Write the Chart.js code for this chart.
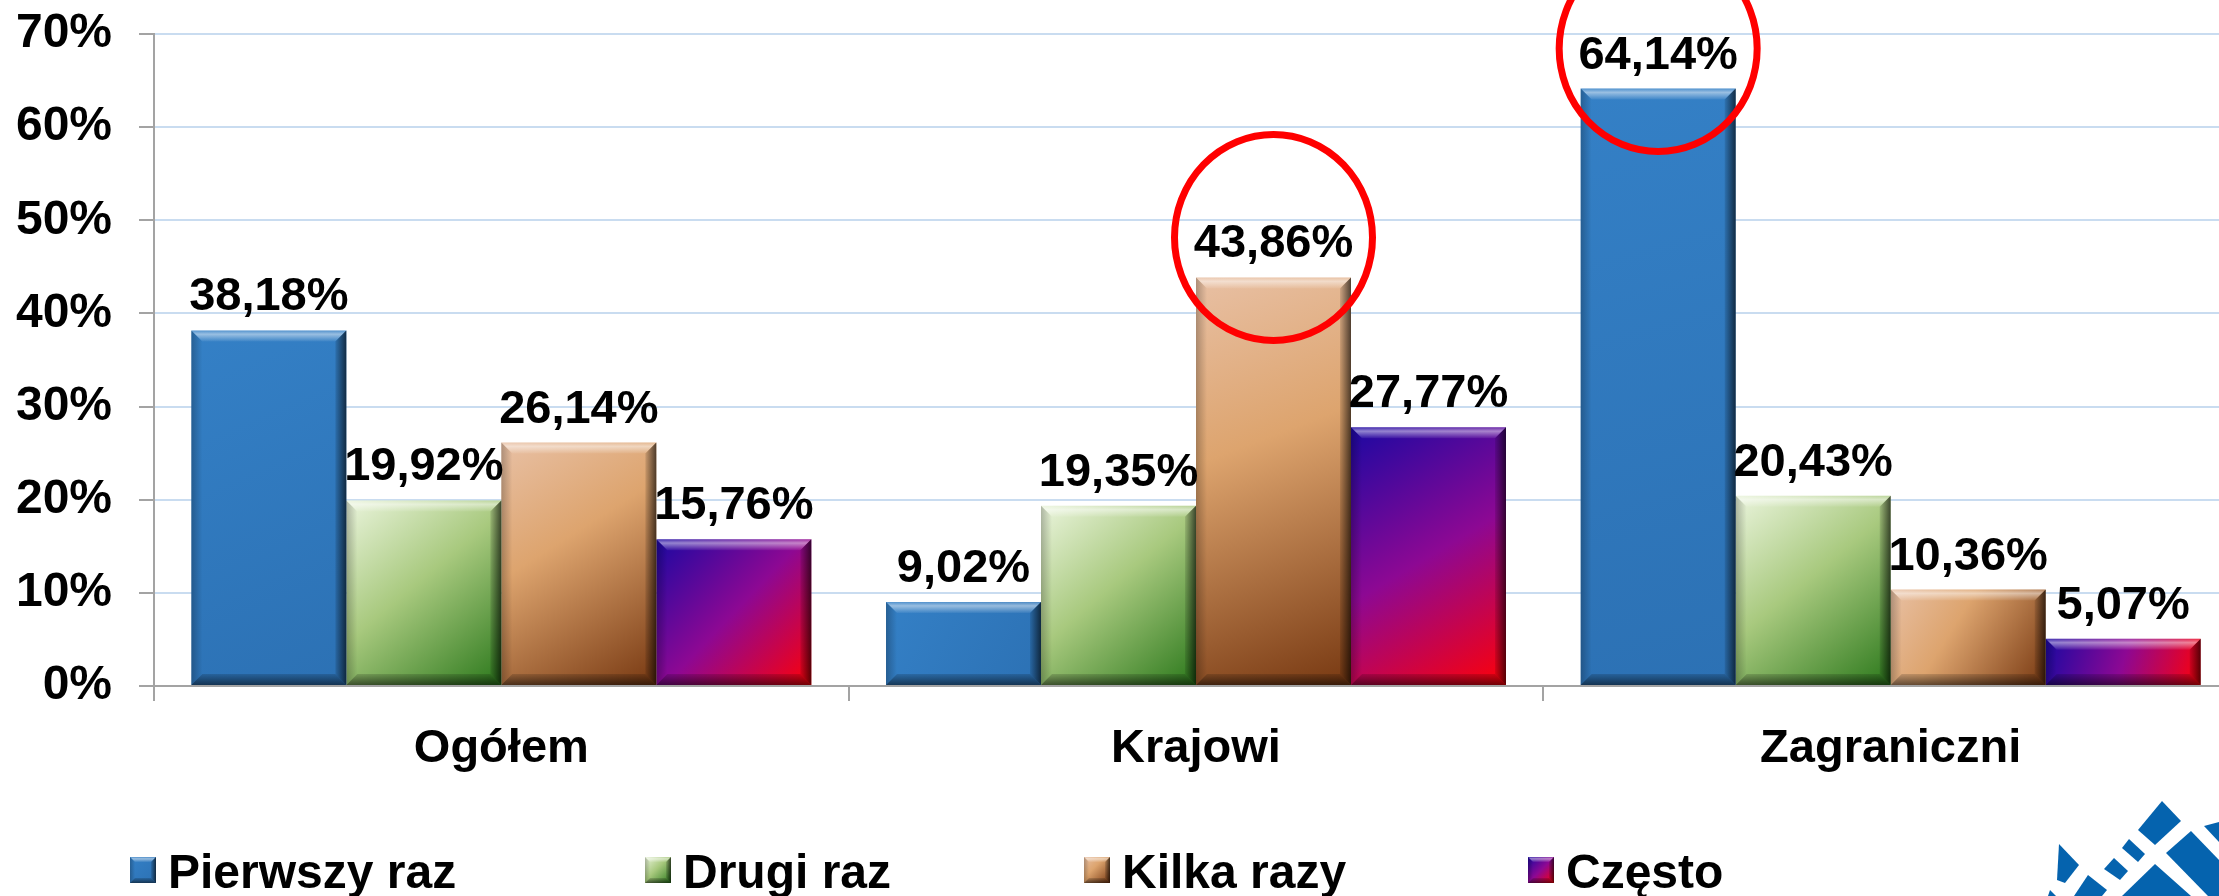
<!DOCTYPE html>
<html lang="pl">
<head>
<meta charset="utf-8">
<title>Częstotliwość wizyt</title>
<script src="https://cdn.jsdelivr.net/npm/chart.js@4/dist/chart.umd.min.js"></script>
<style>
  html, body { margin: 0; padding: 0; background: #ffffff; overflow: hidden; }
  #wrap { width: 2240px; height: 896px; position: relative; }
  canvas { display: block; }
</style>
</head>
<body>
<div id="wrap"><canvas id="chart" width="2240" height="896"></canvas></div>
<script>
// ---- data ----
const categories = ['Ogółem', 'Krajowi', 'Zagraniczni'];
const seriesNames = ['Pierwszy raz', 'Drugi raz', 'Kilka razy', 'Często'];
const pierwszyRaz = [38.18, 9.02, 64.14];
const drugiRaz    = [19.92, 19.35, 20.43];
const kilkaRazy   = [26.14, 43.86, 10.36];
const czesto      = [15.76, 27.77, 5.07];
const yTicks = [0, 10, 20, 30, 40, 50, 60, 70];
// bars singled out with a red ring: [series index, category index]
const highlighted = [[2, 1], [0, 2]];

// ---- styling ----
const FONT = '"Liberation Sans", Arial, Helvetica, sans-serif';
const CATEGORY_PCT = 0.8925;
const AXIS_GREY = '#a3a3a3';
const GRID_BLUE = '#c9dcf0';

const fills = [
  [[0, '#3480c6'], [1, '#2c71b4']],                                  // blue
  [[0, '#eaf4dc'], [0.45, '#a8c97e'], [1, '#2b781b']],               // green
  [[0, '#e8c0a4'], [0.4, '#dda46e'], [1, '#773811']],                // copper
  [[0, '#1c08a2'], [0.5, '#8d0893'], [1, '#ff0006']]                 // violet-red
];

function makeGradient(ctx2d, stops, l, t, r, b) {
  const g = ctx2d.createLinearGradient(l, t, r, b);
  stops.forEach(([o, c]) => g.addColorStop(o, c));
  return g;
}

// gradient fill computed from the bar's place on the scales
function barFill(stops) {
  return (c) => {
    const chart = c.chart;
    const xs = chart.scales.x, ys = chart.scales.y;
    if (c.type !== 'data' || !xs || !ys) return stops[0][1];
    const n = chart.data.datasets.length;
    const groupW = (xs.width / chart.data.labels.length) * CATEGORY_PCT;
    const barW = groupW / n;
    const left = xs.getPixelForValue(c.dataIndex) - groupW / 2 + c.datasetIndex * barW;
    const top = ys.getPixelForValue(c.raw);
    const bottom = ys.getPixelForValue(0);
    if (![left, top, bottom, barW].every(Number.isFinite) || barW <= 0) return stops[0][1];
    return makeGradient(chart.ctx, stops, left, top, left + barW, bottom);
  };
}

function quad(ctx, pts, style) {
  ctx.beginPath();
  ctx.moveTo(pts[0][0], pts[0][1]);
  for (let i = 1; i < pts.length; i++) ctx.lineTo(pts[i][0], pts[i][1]);
  ctx.closePath();
  ctx.fillStyle = style;
  ctx.fill();
}

// bevelled edges on a rectangle
function drawBevel(ctx, l, t, r, b, d) {
  if (![l, t, r, b, d].every(Number.isFinite) || d <= 0) return;
  let g;
  g = ctx.createLinearGradient(0, t, 0, t + d);
  g.addColorStop(0, 'rgba(255,255,255,0.15)');
  g.addColorStop(0.35, 'rgba(255,255,255,0.5)');
  g.addColorStop(1, 'rgba(255,255,255,0.05)');
  quad(ctx, [[l, t], [r, t], [r - d, t + d], [l + d, t + d]], g);

  g = ctx.createLinearGradient(l, 0, l + d, 0);
  g.addColorStop(0, 'rgba(0,0,0,0.25)');
  g.addColorStop(1, 'rgba(0,0,0,0.0)');
  quad(ctx, [[l, t], [l + d, t + d], [l + d, b - d], [l, b]], g);

  g = ctx.createLinearGradient(r - d, 0, r, 0);
  g.addColorStop(0, 'rgba(0,0,0,0.1)');
  g.addColorStop(1, 'rgba(0,0,0,0.65)');
  quad(ctx, [[r, t], [r, b], [r - d, b - d], [r - d, t + d]], g);

  g = ctx.createLinearGradient(0, b - d, 0, b);
  g.addColorStop(0, 'rgba(0,0,0,0.15)');
  g.addColorStop(1, 'rgba(0,0,0,0.55)');
  quad(ctx, [[l, b], [r, b], [r - d, b - d], [l + d, b - d]], g);
}

function fmt(v) { return v.toFixed(2).replace('.', ',') + '%'; }

const barDecor = {
  id: 'barDecor',
  afterDatasetsDraw(chart) {
    const ctx = chart.ctx;
    ctx.save();
    chart.data.datasets.forEach((ds, di) => {
      chart.getDatasetMeta(di).data.forEach((el) => {
        const p = el.getProps(['x', 'y', 'base', 'width'], true);
        const l = p.x - p.width / 2, r = p.x + p.width / 2;
        const t = Math.min(p.y, p.base), b = Math.max(p.y, p.base);
        const d = Math.min(11, (b - t) / 3, p.width / 3);
        drawBevel(ctx, l, t, r, b, d);
      });
    });
    // value labels
    ctx.fillStyle = '#000';
    ctx.font = 'bold 47px ' + FONT;
    ctx.textAlign = 'center';
    ctx.textBaseline = 'alphabetic';
    chart.data.datasets.forEach((ds, di) => {
      chart.getDatasetMeta(di).data.forEach((el, i) => {
        ctx.fillText(fmt(ds.data[i]), el.x, el.y - 20);
      });
    });
    ctx.restore();
  }
};

const ringsLegendLogo = {
  id: 'ringsLegendLogo',
  afterDraw(chart) {
    const ctx = chart.ctx;
    ctx.save();
    // red rings
    ctx.strokeStyle = '#ff0000';
    ctx.lineWidth = 7;
    highlighted.forEach(([di, ci]) => {
      const el = chart.getDatasetMeta(di).data[ci];
      ctx.beginPath();
      ctx.ellipse(el.x, el.y - 40, 99, 103, 0, 0, Math.PI * 2);
      ctx.stroke();
    });

    // legend
    const legendX = [130, 645, 1084, 1528];
    const boxY = 857, box = 26;
    ctx.font = 'bold 48px ' + FONT;
    ctx.textAlign = 'left';
    ctx.textBaseline = 'alphabetic';
    chart.data.datasets.forEach((ds, di) => {
      const x = legendX[di];
      ctx.fillStyle = makeGradient(ctx, fills[di], x, boxY, x + box, boxY + box);
      ctx.fillRect(x, boxY, box, box);
      drawBevel(ctx, x, boxY, x + box, boxY + box, 5);
      ctx.fillStyle = '#000';
      ctx.fillText(ds.label, x + 38, 888);
    });

    // corner emblem
    ctx.fillStyle = '#0563ae';
    const emblem = [
      [[2162, 801], [2181, 821], [2155, 845], [2138, 830]],
      [[2204, 826], [2219, 822], [2219, 842]],
      [[2166, 853], [2191, 831], [2219, 860], [2219, 896], [2208, 896]],
      [[2129, 839], [2145, 854], [2138, 862], [2122, 848]],
      [[2114, 858], [2128, 871], [2120, 880], [2104, 869]],
      [[2059, 844], [2079, 865], [2065, 883], [2057, 880]],
      [[2088, 875], [2107, 890], [2102, 896], [2074, 896]],
      [[2155, 864], [2191, 896], [2122, 896]],
      [[2050, 890], [2056, 896], [2048, 896]]
    ];
    emblem.forEach((poly) => {
      ctx.beginPath();
      ctx.moveTo(poly[0][0], poly[0][1]);
      poly.slice(1).forEach(([x, y]) => ctx.lineTo(x, y));
      ctx.closePath();
      ctx.fill();
    });
    ctx.restore();
  }
};

const seriesValues = [pierwszyRaz, drugiRaz, kilkaRazy, czesto];

new Chart(document.getElementById('chart'), {
  type: 'bar',
  data: {
    labels: categories,
    datasets: seriesNames.map((name, i) => ({
      label: name,
      data: seriesValues[i],
      backgroundColor: barFill(fills[i]),
      borderWidth: 0,
      categoryPercentage: CATEGORY_PCT,
      barPercentage: 1.0
    }))
  },
  options: {
    responsive: false,
    devicePixelRatio: 1,
    animation: false,
    layout: { padding: { top: 34, right: 2, bottom: 110, left: 0 } },
    plugins: { legend: { display: false }, tooltip: { enabled: false } },
    scales: {
      x: {
        grid: { drawOnChartArea: false, drawTicks: true, tickLength: 15, tickColor: AXIS_GREY, lineWidth: 2, offset: true },
        border: { color: AXIS_GREY, width: 2 },
        ticks: { color: '#000', font: { family: FONT, size: 47, weight: 'bold' }, padding: 20, maxRotation: 0 },
        afterFit: (s) => { s.height = 100; s.paddingLeft = 0; s.paddingRight = 0; }
      },
      y: {
        min: yTicks[0],
        max: yTicks[yTicks.length - 1],
        afterBuildTicks: (s) => { s.ticks = yTicks.map((v) => ({ value: v })); },
        grid: { color: GRID_BLUE, lineWidth: 2, drawTicks: true, tickLength: 15, tickColor: AXIS_GREY },
        border: { color: AXIS_GREY, width: 2 },
        ticks: { color: '#000', font: { family: FONT, size: 48, weight: 'bold' }, padding: 27, callback: (v) => v + '%' },
        afterFit: (s) => { s.width = 154; s.paddingTop = 0; s.paddingBottom = 0; }
      }
    }
  },
  plugins: [barDecor, ringsLegendLogo]
});
</script>
</body>
</html>
